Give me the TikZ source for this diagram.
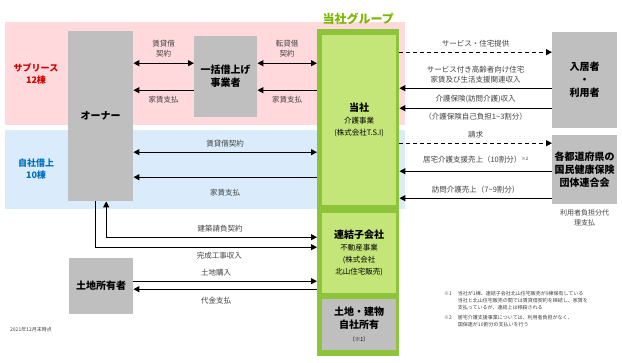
\documentclass[tikz,border=0pt]{standalone}
\usepackage{fontspec}
\setmainfont{Noto Sans CJK JP}
\usetikzlibrary{arrows.meta, positioning, calc}
\definecolor{bandpink}{RGB}{255,217,220}
\definecolor{bandblue}{RGB}{218,236,252}
\definecolor{boxgray}{RGB}{191,191,191}
\definecolor{grpgreen}{RGB}{140,196,58}
\definecolor{grplight}{RGB}{196,229,120}
\definecolor{titlegreen}{RGB}{122,184,0}
\definecolor{subred}{RGB}{210,0,0}
\definecolor{ownblue}{RGB}{0,112,192}
\definecolor{labelgray}{RGB}{64,64,64}
\newcommand{\boxsub}[1]{{\fontsize{7.5}{10}\selectfont\mdseries #1}}

\begin{document}
\begin{tikzpicture}[
    x=1pt, y=-1pt,
    >={Triangle[length=6pt,width=6pt]},
    arr/.style={line width=1.2pt, black},
    graybox/.style={rectangle, fill=boxgray, anchor=north west, inner sep=0pt, align=center, font=\fontsize{10}{13}\selectfont\bfseries},
    greenbox/.style={rectangle, fill=grplight, anchor=north west, inner sep=0pt, align=center, font=\fontsize{10}{12}\selectfont\bfseries},
    lbl/.style={font=\fontsize{7.5}{10}\selectfont, text=labelgray, align=center},
    sidelbl/.style={font=\fontsize{9}{12}\selectfont\bfseries, align=center},
    note/.style={font=\fontsize{5}{7}\selectfont, text=labelgray, align=left, inner sep=0pt}
]
\useasboundingbox (0,0) rectangle (622,363);

% Bands
\fill[bandpink] (5,22) rectangle (405,125);
\fill[bandblue] (5,130) rectangle (405,209);
\node[sidelbl, text=subred] (sublease) at (36,74) {サブリース\\12棟};
\node[sidelbl, text=ownblue] (ownlease) at (36,169) {自社借上\\10棟};

% Group
\node[rectangle, fill=grpgreen, anchor=north west, minimum width=82, minimum height=327, inner sep=0pt] (grp) at (317,29) {};
\node[font=\fontsize{12}{14}\selectfont\bfseries, text=titlegreen, above=1pt of grp] (grptitle) {当社グループ};
\node[greenbox, minimum width=74, minimum height=170] (tosha) at (322,35)
  {当社\\\boxsub{介護事業}\\\boxsub{(株式会社T.S.I)}};
\node[greenbox, minimum width=74, minimum height=80] (sub) at (322,213)
  {連結子会社\\\boxsub{不動産事業}\\\boxsub{(株式会社}\\\boxsub{北山住宅販売)}};
\node[graybox, minimum width=74, minimum height=51] (ownprop) at (322,299)
  {土地・建物\\自社所有\\{\fontsize{5.5}{8}\selectfont\mdseries （※1）}};

% Parties
\node[graybox, minimum width=65, minimum height=170] (owner) at (68,31) {オーナー};
\node[graybox, minimum width=63, minimum height=81] (ikkatsu) at (194,36) {一括借上げ\\事業者};
\node[graybox, minimum width=64, minimum height=56] (landowner) at (69,258) {土地所有者};
\node[graybox, minimum width=65, minimum height=96] (resident) at (552,32) {入居者\\・\\利用者};
\node[graybox, minimum width=65, minimum height=69] (kokuho) at (552,135) {各都道府県の\\国民健康保険\\団体連合会};
\node[lbl, font=\fontsize{7}{10}\selectfont, below=2pt of kokuho] (kokuhonote) {利用者負担分代\\理支払};

% Anchor points
\path ([yshift=13.5]ikkatsu.west) coordinate (i1)
      ([yshift=-13.5]ikkatsu.west) coordinate (i2)
      ([yshift=13.5]ikkatsu.east) coordinate (i3)
      ([yshift=-13.5]ikkatsu.east) coordinate (i4)
      ([yshift=-36]owner.east) coordinate (o1)
      ([yshift=-61]owner.east) coordinate (o2)
      ([xshift=5.5]owner.south) coordinate (b1)
      ([xshift=-5.5]owner.south) coordinate (b2)
      ([yshift=16]sub.west) coordinate (s1)
      ([yshift=6]sub.west) coordinate (s2)
      ([yshift=5]landowner.east) coordinate (l1)
      ([yshift=-3]landowner.east) coordinate (l2)
      ([yshift=28]resident.west) coordinate (r1)
      ([yshift=-8]resident.west) coordinate (r2)
      ([yshift=-28]resident.west) coordinate (r3)
      ([yshift=26.5]kokuho.west) coordinate (k1)
      ([yshift=-1.5]kokuho.west) coordinate (k2)
      ([yshift=-28.5]kokuho.west) coordinate (k3);

% Left arrows
\draw[arr, <->] (owner.east |- i1) -- node[lbl, above=2pt] {賃貸借\\契約} (i1);
\draw[arr, <-] (owner.east |- i2) -- node[lbl, below=2pt] {家賃支払} (i2);
\draw[arr, <->] (i3) -- node[lbl, above=2pt] {転貸借\\契約} (i3 -| grp.west);
\draw[arr, <-] (i4) -- node[lbl, below=2pt] {家賃支払} (i4 -| grp.west);
\draw[arr, <->] (o1) -- node[lbl, above=1pt] {賃貸借契約} (o1 -| grp.west);
\draw[arr, <-] (o2) -- node[lbl, below=8pt] {家賃支払} (o2 -| grp.west);
\draw[arr, <->] (b1) |- node[lbl, pos=0.77, above=1pt] {建築請負契約} (s1 -| grp.west);
\draw[arr, ->] (b2) |- node[lbl, pos=0.78, below=1pt] {完成工事収入} (s2 -| grp.west);
\draw[arr, ->] (l1) -- node[lbl, pos=0.45, above=1pt] {土地購入} (l1 -| grp.west);
\draw[arr, <-] (l2) -- node[lbl, pos=0.45, below=4pt] {代金支払} (l2 -| grp.west);

% Right arrows
\draw[arr, ->, dash pattern=on 4pt off 3pt] (r1 -| grp.east) -- node[lbl, above=1pt] {サービス・住宅提供} (r1);
\draw[arr, <-] (r2 -| grp.east) -- node[lbl, above=1pt] {サービス付き高齢者向け住宅\\家賃及び生活支援関連収入} (r2);
\draw[arr, <-] (r3 -| grp.east) -- node[lbl, above=1pt] {介護保険(訪問介護)収入}
  node[lbl, below=1pt] {（介護保険自己負担1\textasciitilde 3割分）} (r3);
\draw[arr, ->, dash pattern=on 4pt off 3pt] (k1 -| grp.east) -- node[lbl, above=1pt] {請求} (k1);
\draw[arr, <-] (k2 -| grp.east) -- node[lbl, above=4pt] {居宅介護支援売上（10割分）\raisebox{2pt}{\fontsize{4.5}{5}\selectfont ※2}} (k2);
\draw[arr, <-] (k3 -| grp.east) -- node[lbl, above=1pt] {訪問介護売上（7\textasciitilde 9割分）} (k3);

% Notes
\node[note, anchor=north west] (footnote) at (444,290) {%
  \begin{tabular}{@{}l@{\hspace{6pt}}l@{}}
  ※1 & 当社が1棟、連結子会社北山住宅販売が9棟保有している\\
      & 当社と北山住宅販売の間では賃貸借契約を締結し、家賃を\\
      & 支払っているが、連結上は相殺される\\[3pt]
  ※2 & 居宅介護支援事業については、利用者負担がなく、\\
      & 国保連が10割分の支払いを行う
  \end{tabular}};
\node[note, anchor=west] (asof) at (10,330) {2021年12月末時点};

\end{tikzpicture}
\end{document}
